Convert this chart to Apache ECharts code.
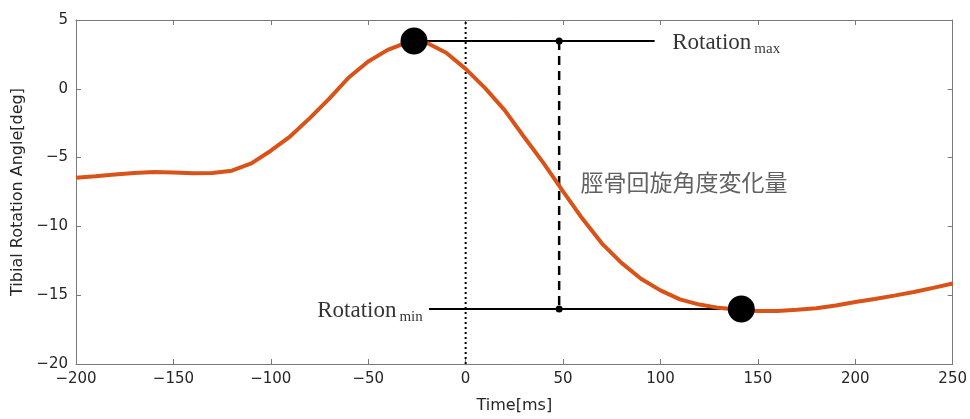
<!DOCTYPE html>
<html>
<head>
<meta charset="utf-8">
<script src="https://cdn.jsdelivr.net/npm/echarts@6/dist/echarts.min.js"></script>
<style>html,body{margin:0;padding:0;background:#fff}#c{width:970px;height:419px}</style>
</head>
<body>
<div id="c"></div>
<script>
// ---- data ----
const timeMs = [-200,-190,-180,-170,-160,-150,-140,-130,-120,-110,-100,-90,-80,-70,-60,-50,-40,-30,-26.5,-20,-10,0,10,20,30,40,50,60,70,80,90,100,110,120,130,140,150,160,170,180,190,200,210,220,230,240,250];
const angleDeg = [-6.46,-6.35,-6.23,-6.12,-6.05,-6.08,-6.14,-6.12,-5.95,-5.42,-4.5,-3.45,-2.13,-0.72,0.82,1.98,2.83,3.38,3.47,3.35,2.62,1.45,0.05,-1.55,-3.5,-5.4,-7.45,-9.45,-11.25,-12.65,-13.8,-14.65,-15.3,-15.68,-15.92,-16.05,-16.15,-16.14,-16.05,-15.95,-15.75,-15.5,-15.27,-15.03,-14.77,-14.47,-14.15];
const peakPoint = [-26.5, 3.47];
const troughPoint = [141.5, -16.0];
const dashX = 48;
const maxLineEndX = 97;
const minLineStartX = -18.8;
const xTicks = [-200,-150,-100,-50,0,50,100,150,200,250];
const yTicks = [-20,-15,-10,-5,0,5];
const labelMaxPos = [106, 3.47];
const labelMinPos = [-22, -16.0];
const labelChangePos = [59, -6.8];
const changeText = '脛骨回旋角度変化量';

const minus = v => String(v).replace('-', '\u2212');
const curve = timeMs.map((t, i) => [t, angleDeg[i]]);
const tickFont = {fontFamily: 'DejaVu Sans', fontSize: 15, color: '#262626'};
const axisCommon = {
  type: 'value', splitLine: {show: false},
  axisLine: {show: true, onZero: false, lineStyle: {color: '#7a7a7a', width: 1}},
  axisTick: {show: true, inside: true, length: 5, lineStyle: {color: '#7a7a7a'}}
};
const blackLine = (data, extra) => Object.assign({
  type: 'line', data, showSymbol: false, symbol: 'none', silent: true,
  lineStyle: {color: '#000', width: 2}, z: 3
}, extra || {});

const chart = echarts.init(document.getElementById('c'), null, {renderer: 'canvas'});
chart.setOption({
  animation: false,
  grid: {left: 76, right: 14, top: 20, bottom: 50},
  xAxis: [
    Object.assign({}, axisCommon, {min: xTicks[0], max: xTicks[xTicks.length-1], interval: 50, position: 'bottom',
      name: 'Time[ms]', nameLocation: 'middle', nameGap: 34,
      nameTextStyle: {fontFamily: 'DejaVu Sans', fontSize: 16, color: '#262626'},
      axisLabel: Object.assign({margin: 8, formatter: minus}, tickFont)}),
    Object.assign({}, axisCommon, {min: xTicks[0], max: xTicks[xTicks.length-1], interval: 50, position: 'top',
      axisLabel: {show: false}})
  ],
  yAxis: [
    Object.assign({}, axisCommon, {min: yTicks[0], max: yTicks[yTicks.length-1], interval: 5, position: 'left',
      name: 'Tibial Rotation Angle[deg]', nameLocation: 'middle', nameGap: 45,
      nameTextStyle: {fontFamily: 'DejaVu Sans', fontSize: 16, color: '#262626'},
      axisLabel: Object.assign({margin: 8, formatter: minus}, tickFont)}),
    Object.assign({}, axisCommon, {min: yTicks[0], max: yTicks[yTicks.length-1], interval: 5, position: 'right',
      axisLabel: {show: false}})
  ],
  series: [
    {type: 'line', data: curve, showSymbol: false, symbol: 'none', smooth: false,
      lineStyle: {color: '#D95319', width: 4}, z: 4},
    blackLine([[0, yTicks[0]], [0, yTicks[yTicks.length-1]]], {lineStyle: {color: '#000', width: 2, type: [2, 3]}}),
    blackLine([peakPoint, [maxLineEndX, peakPoint[1]]]),
    blackLine([[minLineStartX, troughPoint[1]], troughPoint]),
    blackLine([[dashX, peakPoint[1]], [dashX, troughPoint[1]]], {
      showSymbol: true, symbol: 'circle', symbolSize: 7, itemStyle: {color: '#000'},
      lineStyle: {color: '#000', width: 2.5, type: [9, 6]}}),
    {type: 'scatter', data: [peakPoint, troughPoint], symbolSize: 27, itemStyle: {color: '#000', opacity: 1}, z: 6, silent: true},
    {type: 'scatter', symbolSize: 0, silent: true, z: 7,
      data: [
        {value: labelMaxPos, label: {show: true, position: 'right', distance: 0, formatter: '{a|Rotation}{b|max}'}},
        {value: labelMinPos, label: {show: true, position: 'left', distance: 0, formatter: '{a|Rotation}{b|min}'}},
        {value: labelChangePos, label: {show: true, position: 'right', distance: 0, formatter: changeText,
          fontFamily: 'Noto Sans CJK JP', fontSize: 23, color: '#3a3a3a'}}
      ],
      label: {rich: {
        a: {fontFamily: 'Liberation Serif', fontSize: 23, color: '#000', verticalAlign: 'bottom', lineHeight: 26},
        b: {fontFamily: 'Liberation Serif', fontSize: 15, color: '#000', verticalAlign: 'bottom', lineHeight: 26, padding: [0,0,-3,3]}
      }}
    }
  ]
});
</script>
</body>
</html>
